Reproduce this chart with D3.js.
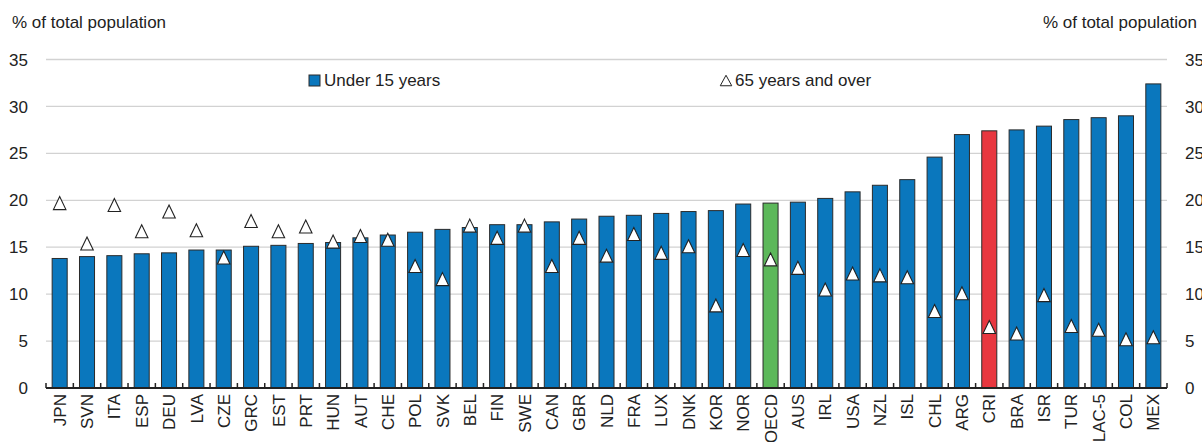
<!DOCTYPE html>
<html>
<head>
<meta charset="utf-8">
<script src="https://cdn.jsdelivr.net/npm/d3@7"></script>
<style>
  body { margin: 0; background: #fff; }
  svg { display: block; font-family: "Liberation Sans", Arial, sans-serif; }
  text { fill: #222; }
</style>
</head>
<body>
<div id="chart"></div>
<script>
// countries, sorted by share of under 15
var countries = ["JPN", "SVN", "ITA", "ESP", "DEU", "LVA", "CZE", "GRC", "EST", "PRT", "HUN", "AUT", "CHE",
    "POL", "SVK", "BEL", "FIN", "SWE", "CAN", "GBR", "NLD", "FRA", "LUX", "DNK", "KOR", "NOR", "OECD",
    "AUS", "IRL", "USA", "NZL", "ISL", "CHL", "ARG", "CRI", "BRA", "ISR", "TUR", "LAC-5", "COL", "MEX"];

var under15 = [13.8, 14.0, 14.1, 14.3, 14.4, 14.7, 14.7, 15.1, 15.2, 15.4, 15.5, 16.0, 16.3,
    16.6, 16.9, 17.1, 17.4, 17.4, 17.7, 18.0, 18.3, 18.4, 18.6, 18.8, 18.9, 19.6, 19.7,
    19.8, 20.2, 20.9, 21.6, 22.2, 24.6, 27.0, 27.4, 27.5, 27.9, 28.6, 28.8, 29.0, 32.4];

var over65 = [19.7, 15.4, 19.5, 16.7, 18.8, 16.8, 13.9, 17.8, 16.7, 17.2, 15.6, 16.2, 15.8,
    13.0, 11.6, 17.3, 16.0, 17.3, 13.0, 16.0, 14.1, 16.4, 14.4, 15.1, 8.8, 14.7, 13.7,
    12.8, 10.5, 12.2, 12.0, 11.8, 8.2, 10.1, 6.5, 5.8, 9.9, 6.6, 6.2, 5.2, 5.4];

var yTicks = [0, 5, 10, 15, 20, 25, 30, 35];

var W = 1202, H = 442;
var plotLeft = 46, plotRight = 1167, plotTop = 59.5, plotBottom = 388;

var svg = d3.select("#chart").append("svg")
    .attr("width", W)
    .attr("height", H);

var x = d3.scaleBand()
    .domain(countries)
    .range([plotLeft, plotRight])
    .paddingInner(0.45)
    .paddingOuter(0.225);

var y = d3.scaleLinear().domain([0, 35]).range([plotBottom, plotTop]);

var step = x.step();

// grid
svg.append("g")
    .selectAll("line")
    .data(yTicks.slice(1))
    .enter().append("line")
    .attr("x1", plotLeft).attr("x2", plotRight)
    .attr("y1", function(d) { return y(d); })
    .attr("y2", function(d) { return y(d); })
    .style("stroke", "#d2d2d2")
    .style("stroke-width", 1.3);

// y labels, both sides
svg.append("g")
    .selectAll("text")
    .data(yTicks)
    .enter().append("text")
    .attr("x", 28)
    .attr("y", function(d) { return y(d); })
    .attr("dy", "0.36em")
    .style("text-anchor", "end")
    .style("font-size", "17px")
    .text(function(d) { return d; });

svg.append("g")
    .selectAll("text")
    .data(yTicks)
    .enter().append("text")
    .attr("x", 1185)
    .attr("y", function(d) { return y(d); })
    .attr("dy", "0.36em")
    .style("text-anchor", "start")
    .style("font-size", "17px")
    .text(function(d) { return d; });

// axis titles
svg.append("text")
    .attr("x", 12)
    .attr("y", 28)
    .style("font-size", "17px")
    .text("% of total population");

svg.append("text")
    .attr("x", 1197)
    .attr("y", 28)
    .style("text-anchor", "end")
    .style("font-size", "17px")
    .text("% of total population");

// bars
function barColor(c) {
    if (c === "OECD") return "#5cb85a";
    if (c === "CRI") return "#e8373f";
    return "#0a77bd";
}

svg.append("g")
    .selectAll("rect")
    .data(countries)
    .enter().append("rect")
    .attr("x", function(d) { return x(d); })
    .attr("width", x.bandwidth())
    .attr("y", function(d, i) { return y(under15[i]); })
    .attr("height", function(d, i) { return plotBottom - y(under15[i]); })
    .style("fill", function(d) { return barColor(d); })
    .style("stroke", "#2b2b2b")
    .style("stroke-width", 1);

// triangles for 65+
var triW = 12.5, triH = 13;
function triPath(w, h) {
    return "M0," + (-h / 2) + "L" + (w / 2) + "," + (h / 2) + "L" + (-w / 2) + "," + (h / 2) + "Z";
}

svg.append("g")
    .selectAll("path")
    .data(countries)
    .enter().append("path")
    .attr("d", triPath(triW, triH))
    .attr("transform", function(d, i) {
        return "translate(" + (x(d) + x.bandwidth() / 2) + "," + y(over65[i]) + ")";
    })
    .style("fill", "#fff")
    .style("stroke", "#222")
    .style("stroke-width", 1.1);

// x axis line + ticks at band edges
var axis = svg.append("g");
axis.append("line")
    .attr("x1", plotLeft).attr("x2", plotRight)
    .attr("y1", plotBottom).attr("y2", plotBottom)
    .style("stroke", "#222")
    .style("stroke-width", 1.8);

axis.selectAll(".tick")
    .data(d3.range(countries.length + 1))
    .enter().append("line")
    .attr("x1", function(i) { return plotLeft + i * step; })
    .attr("x2", function(i) { return plotLeft + i * step; })
    .attr("y1", plotBottom)
    .attr("y2", plotBottom - 5)
    .style("stroke", "#222")
    .style("stroke-width", 1.5);

// country labels
svg.append("g")
    .selectAll("text")
    .data(countries)
    .enter().append("text")
    .attr("transform", function(d) {
        return "translate(" + (x(d) + x.bandwidth() / 2) + "," + (plotBottom + 6) + ") rotate(-90)";
    })
    .attr("dy", "0.36em")
    .style("text-anchor", "end")
    .style("font-size", "17px")
    .text(function(d) { return d; });

// legend
var legend = svg.append("g");
legend.append("rect")
    .attr("x", 309).attr("y", 75)
    .attr("width", 11).attr("height", 11)
    .style("fill", "#0a77bd")
    .style("stroke", "#2b2b2b")
    .style("stroke-width", 1);
legend.append("text")
    .attr("x", 324).attr("y", 86)
    .style("font-size", "17px")
    .text("Under 15 years");

legend.append("path")
    .attr("d", triPath(11.5, 10.5))
    .attr("transform", "translate(726,80.5)")
    .style("fill", "#fff")
    .style("stroke", "#222")
    .style("stroke-width", 1);
legend.append("text")
    .attr("x", 735).attr("y", 86)
    .style("font-size", "17px")
    .text("65 years and over");
</script>
</body>
</html>
